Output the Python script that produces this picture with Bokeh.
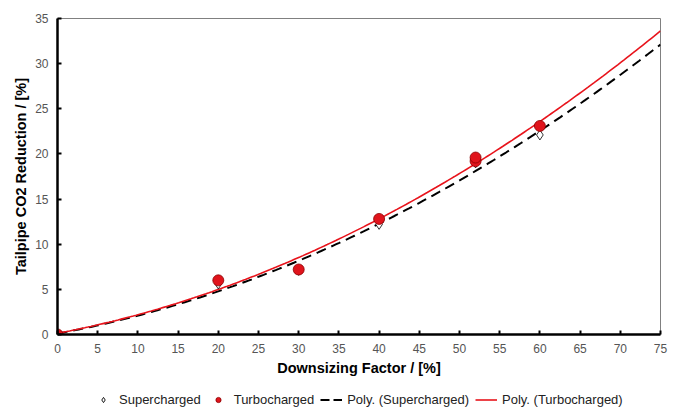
import numpy as np
from bokeh.plotting import figure
from bokeh.layouts import column
from bokeh.models import Range1d, Legend, LegendItem, FixedTicker
from bokeh.embed import file_html
from bokeh.resources import INLINE

# Data
super_x = [0, 20, 30, 40, 52, 60]
super_y = [0.0, 5.6, 7.1, 12.2, 19.0, 22.1]
turbo_x = [0, 20, 30, 40, 52, 52, 60]
turbo_y = [0.0, 6.0, 7.2, 12.8, 19.2, 19.6, 23.1]
x_ticks = list(range(0, 80, 5))
y_ticks = list(range(0, 40, 5))
series_labels = ["Supercharged", "Turbocharged", "Poly. (Supercharged)", "Poly. (Turbocharged)"]

# Excel-style polynomial (order 2) trend lines
cs = np.polyfit(super_x, super_y, 2)
ct = np.polyfit(turbo_x, turbo_y, 2)
xs = np.linspace(0, 75, 200)
ys_s = np.polyval(cs, xs)
ys_t = np.polyval(ct, xs)

FONT = "Liberation Sans"
RED = "#e8141c"

p = figure(width=670, height=388, output_backend="svg", toolbar_location=None,
           x_range=Range1d(0, 75), y_range=Range1d(0, 35),
           min_border_left=57, min_border_right=10, min_border_top=18, min_border_bottom=54)
p.background_fill_color = "white"
p.border_fill_color = "white"
p.outline_line_color = "#808080"
p.outline_line_width = 1
p.grid.visible = False

for ax, ticks in ((p.xaxis, x_ticks), (p.yaxis, y_ticks)):
    ax.ticker = FixedTicker(ticks=ticks)
    ax.axis_line_color = "black"
    ax.axis_line_width = 2.5
    ax.major_tick_line_color = "black"
    ax.major_tick_line_width = 2
    ax.major_tick_in = 4
    ax.major_tick_out = 0
    ax.minor_tick_line_color = None
    ax.major_label_text_font = FONT
    ax.major_label_text_font_size = "12px"
    ax.major_label_text_color = "#555555"
    ax.axis_label_text_font = FONT
    ax.axis_label_text_font_size = "14.5px"
    ax.axis_label_text_font_style = "bold"
    ax.axis_label_text_color = "black"

p.xaxis.axis_label = "Downsizing Factor / [%]"
p.yaxis.axis_label = "Tailpipe CO2 Reduction / [%]"
p.xaxis.major_label_standoff = 9
p.yaxis.major_label_standoff = 9
p.xaxis.axis_label_standoff = 4
p.yaxis.axis_label_standoff = 3

p.line(xs, ys_s, line_color="black", line_width=2, line_dash="10 6")
p.line(xs, ys_t, line_color=RED, line_width=1.6)
p.scatter(super_x, super_y, marker="diamond", size=10, fill_color="white",
          line_color="black", line_width=0.8)
p.scatter(turbo_x, turbo_y, marker="circle", size=11, fill_color="#e0141c",
          line_color="#8b0000", line_width=0.8)

# Legend strip below the chart (its renderers hold one point outside the visible range)
lg = figure(width=670, height=19, output_backend="svg", toolbar_location=None,
            x_range=Range1d(0, 1), y_range=Range1d(0, 1),
            min_border_left=0, min_border_right=0, min_border_top=0, min_border_bottom=0)
lg.axis.visible = False
lg.grid.visible = False
lg.outline_line_color = None
lg.background_fill_color = "white"
lg.border_fill_color = "white"
off = [-10.0]
d_s = lg.scatter(off, off, marker="diamond", size=10, fill_color="white", line_color="black", line_width=0.9)
d_t = lg.scatter(off, off, marker="circle", size=9, fill_color="#e0141c", line_color="#8b0000", line_width=0.8)
d_ls = lg.line(off, off, line_color="black", line_width=2, line_dash="9 4")
d_lt = lg.line(off, off, line_color=RED, line_width=1.6)

legend = Legend(items=[LegendItem(label=lab, renderers=[r]) for lab, r in
                       zip(series_labels, [d_s, d_t, d_ls, d_lt])],
                orientation="horizontal", location=(35, 0))
legend.label_text_font = FONT
legend.label_text_font_size = "13px"
legend.label_text_color = "#222222"
legend.border_line_color = None
legend.background_fill_alpha = 0
legend.glyph_width = 22
legend.glyph_height = 13
legend.label_height = 13
legend.spacing = 6
legend.label_standoff = 5
legend.padding = 0
legend.margin = 0
lg.add_layout(legend, "center")

open("out.html", "w").write(file_html(column(p, lg), INLINE))
